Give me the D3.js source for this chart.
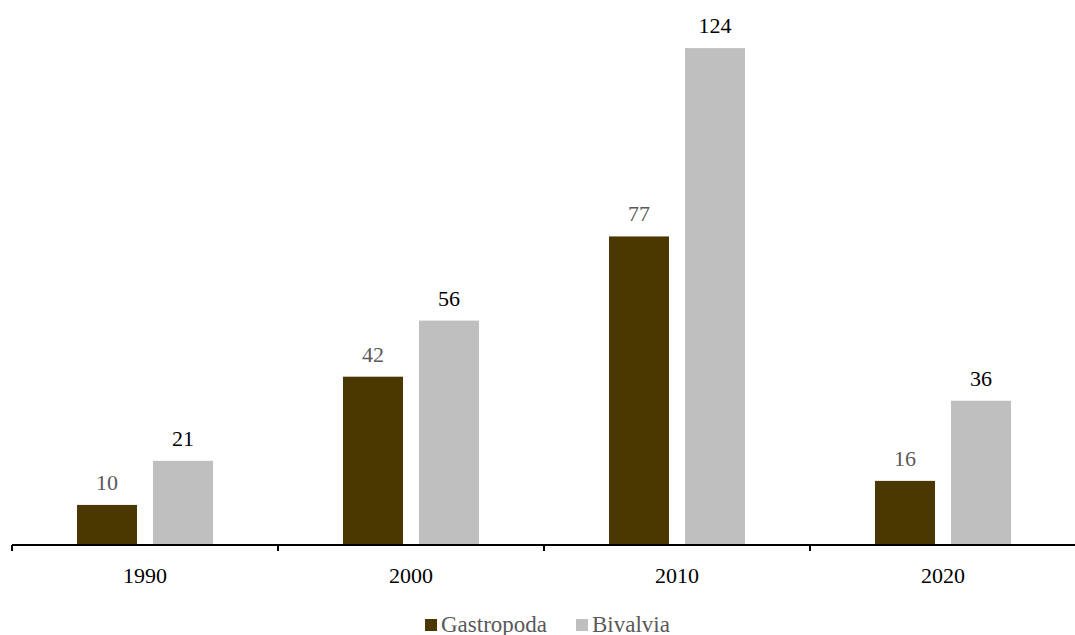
<!DOCTYPE html>
<html>
<head>
<meta charset="utf-8">
<script src="https://cdn.jsdelivr.net/npm/d3@7"></script>
<style>
  html, body { margin: 0; padding: 0; background: #fff; }
  svg text { font-family: "Liberation Serif", "Times New Roman", serif; }
</style>
</head>
<body>
<svg id="chart" width="1075" height="635"></svg>
<script>
// Decade categories and counts per class
const years = ["1990", "2000", "2010", "2020"];
const gastropoda = [10, 42, 77, 16];
const bivalvia = [21, 56, 124, 36];
const seriesNames = ["Gastropoda", "Bivalvia"];
const seriesColors = ["#4a3800", "#bfbfbf"];
const labelColors = ["#595959", "#000000"];

const svg = d3.select("#chart");
const left = 12, right = 1076, baseY = 545, topY = 0;

const x = d3.scaleBand().domain(years).range([left, right]).paddingInner(0).paddingOuter(0);
const inner = d3.scaleBand().domain(seriesNames).range([0, x.bandwidth()])
  .paddingInner(0.2105).paddingOuter(0.855);
const y = d3.scaleLinear().domain([0, 136]).range([baseY, topY]);

const series = [gastropoda, bivalvia];

series.forEach((vals, si) => {
  const g = svg.append("g");
  g.selectAll("rect").data(years).join("rect")
    .attr("x", d => x(d) + inner(seriesNames[si]))
    .attr("width", inner.bandwidth())
    .attr("y", (d, i) => y(vals[i]))
    .attr("height", (d, i) => baseY - y(vals[i]))
    .attr("fill", seriesColors[si]);
  g.selectAll("text").data(years).join("text")
    .attr("x", d => x(d) + inner(seriesNames[si]) + inner.bandwidth() / 2)
    .attr("y", (d, i) => y(vals[i]) - 15)
    .attr("text-anchor", "middle")
    .attr("font-size", 22)
    .attr("fill", labelColors[si])
    .text((d, i) => vals[i]);
});

// Category axis with ticks between groups
const axis = d3.axisBottom(x).tickSize(0).tickPadding(22);
const ag = svg.append("g").attr("transform", `translate(0,${baseY})`).call(axis);
ag.select(".domain").attr("stroke", "#000").attr("stroke-width", 2).attr("d", `M${left},0H${right}`);
ag.selectAll(".tick text").attr("font-size", 22).attr("fill", "#000")
  .attr("font-family", "Liberation Serif, Times New Roman, serif");
const bounds = years.map(d => x(d)).concat([x(years[years.length - 1]) + x.bandwidth()]);
ag.selectAll("line.sep").data(bounds).join("line").attr("class", "sep")
  .attr("x1", d => d).attr("x2", d => d).attr("y1", 0).attr("y2", 6)
  .attr("stroke", "#000").attr("stroke-width", 2);

// Legend
const legend = svg.append("g");
const legendItems = [
  { name: seriesNames[0], color: seriesColors[0], x: 425 },
  { name: seriesNames[1], color: seriesColors[1], x: 576 }
];
legendItems.forEach(it => {
  legend.append("rect").attr("x", it.x).attr("y", 619).attr("width", 12).attr("height", 12).attr("fill", it.color);
  legend.append("text").attr("x", it.x + 16).attr("y", 632).attr("font-size", 23)
    .attr("fill", "#595959").text(it.name);
});
</script>
</body>
</html>
